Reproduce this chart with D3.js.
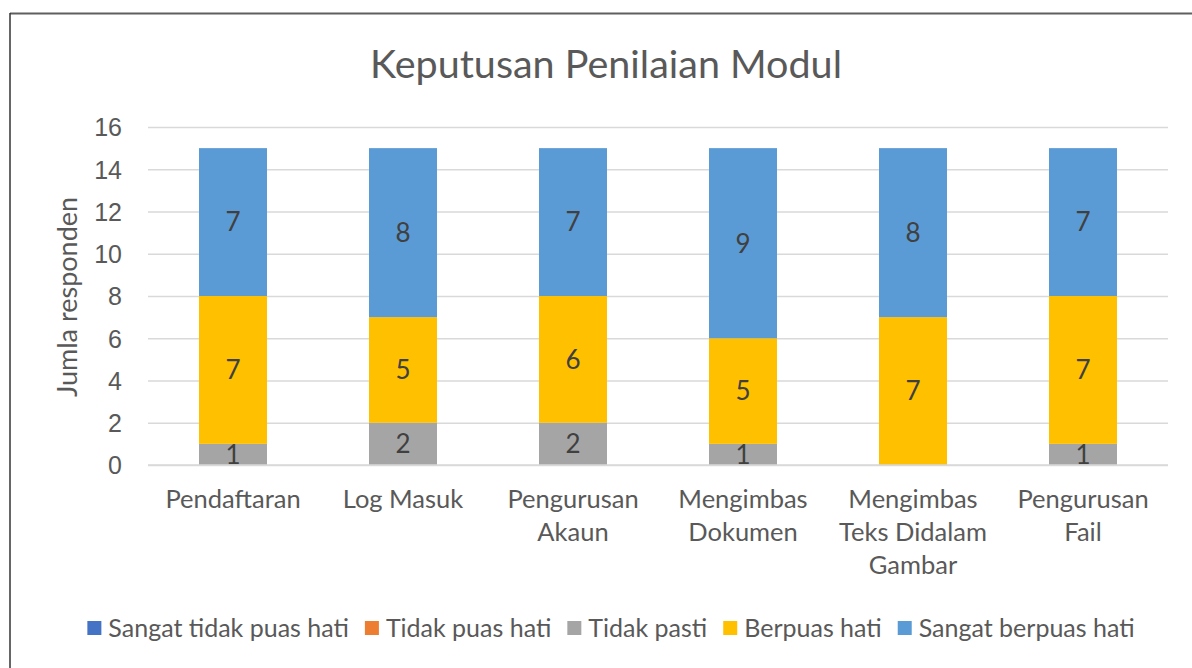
<!DOCTYPE html>
<html>
<head>
<meta charset="utf-8">
<script src="https://cdn.jsdelivr.net/npm/d3@7"></script>
<style>
  body { margin: 0; background: #fff; }
  svg { display: block; font-family: Lato, "Open Sans", sans-serif; }
</style>
</head>
<body>
<svg width="1192" height="668"></svg>
<script>
var categories = ["Pendaftaran", "Log Masuk", "Pengurusan Akaun", "Mengimbas Dokumen", "Mengimbas Teks Didalam Gambar", "Pengurusan Fail"];
var seriesNames = ["Sangat tidak puas hati", "Tidak puas hati", "Tidak pasti", "Berpuas hati", "Sangat berpuas hati"];
var sangatTidakPuas = [0, 0, 0, 0, 0, 0];
var tidakPuas = [0, 0, 0, 0, 0, 0];
var tidakPasti = [1, 2, 2, 1, 0, 1];
var berpuas = [7, 5, 6, 5, 7, 7];
var sangatBerpuas = [7, 8, 7, 9, 8, 7];
var yTicks = [0, 2, 4, 6, 8, 10, 12, 14, 16];
var colors = ["#4472C4", "#ED7D31", "#A5A5A5", "#FFC000", "#5B9BD5"];

var seriesValues = [sangatTidakPuas, tidakPuas, tidakPasti, berpuas, sangatBerpuas];

// table for d3.stack
var rows = categories.map(function(c, i) {
  var r = {cat: c};
  seriesNames.forEach(function(s, j) { r[s] = seriesValues[j][i]; });
  return r;
});

var svg = d3.select("svg"),
    margin = {top: 127, right: 24, bottom: 203, left: 148},
    width = 1192 - margin.left - margin.right,
    height = 668 - margin.top - margin.bottom;

// chart border (only top and left visible)
svg.append("line").attr("x1", 10).attr("x2", 1192).attr("y1", 13.5).attr("y2", 13.5)
  .attr("stroke", "#5f5f5f").attr("stroke-width", 2);
svg.append("line").attr("x1", 10).attr("x2", 10).attr("y1", 13).attr("y2", 668)
  .attr("stroke", "#333").attr("stroke-width", 1.5);

var x = d3.scaleBand().domain(categories).range([0, width]).paddingInner(0.6).paddingOuter(0.3),
    y = d3.scaleLinear().domain([0, 16]).range([height, 0]);

var g = svg.append("g").attr("transform", "translate(" + margin.left + "," + margin.top + ")");

// title
svg.append("text")
  .attr("x", 606).attr("y", 78)
  .attr("text-anchor", "middle")
  .attr("fill", "#595959")
  .style("font-size", "39.5px")
  .text("Keputusan Penilaian Modul");

// gridlines + y axis
var yAxis = g.append("g")
  .call(d3.axisLeft(y).tickValues(yTicks).tickSize(-width).tickPadding(26));
yAxis.select(".domain").remove();
yAxis.selectAll(".tick line").attr("stroke", "#d9d9d9").attr("stroke-width", 1.5);
yAxis.selectAll(".tick text").attr("fill", "#595959").style("font-size", "25px").attr("dy", "0.35em");

// y axis title
svg.append("text")
  .attr("transform", "translate(77,297) rotate(-90)")
  .attr("text-anchor", "middle")
  .attr("fill", "#595959")
  .style("font-size", "27px")
  .text("Jumla responden");

// stacked bars
var stack = d3.stack().keys(seriesNames);
var layers = stack(rows);

var layer = g.selectAll(".layer")
  .data(layers)
  .enter().append("g")
  .attr("class", "layer")
  .attr("fill", function(d, i) { return colors[i]; });

layer.selectAll("rect")
  .data(function(d) { return d; })
  .enter().append("rect")
  .attr("x", function(d) { return x(d.data.cat); })
  .attr("y", function(d) { return y(d[1]); })
  .attr("width", x.bandwidth())
  .attr("height", function(d) { return y(d[0]) - y(d[1]); });

// data labels
layer.selectAll("text")
  .data(function(d) { return d.filter(function(p) { return p[1] - p[0] > 0; }); })
  .enter().append("text")
  .attr("x", function(d) { return x(d.data.cat) + x.bandwidth() / 2; })
  .attr("y", function(d) { return y((d[0] + d[1]) / 2); })
  .attr("dy", "0.36em")
  .attr("text-anchor", "middle")
  .attr("fill", "#404040")
  .style("font-size", "26px")
  .text(function(d) { return d[1] - d[0]; });

// x axis line
g.append("line").attr("x1", 0).attr("x2", width).attr("y1", height).attr("y2", height)
  .attr("stroke", "#d9d9d9").attr("stroke-width", 1.5);

// category labels, wrapped
var xLab = g.selectAll(".xlab")
  .data(categories)
  .enter().append("text")
  .attr("class", "xlab")
  .attr("text-anchor", "middle")
  .attr("fill", "#595959")
  .style("font-size", "25.5px")
  .attr("transform", function(d) { return "translate(" + (x(d) + x.bandwidth() / 2) + "," + (height + 43) + ")"; });

xLab.each(function(d) {
  var t = d3.select(this), words = d.split(" "), line = [], lines = [];
  var probe = t.append("tspan");
  words.forEach(function(w) {
    var test = line.concat([w]).join(" ");
    probe.text(test);
    if (probe.node().getComputedTextLength() > 165 && line.length) {
      lines.push(line.join(" "));
      line = [w];
    } else {
      line.push(w);
    }
  });
  lines.push(line.join(" "));
  probe.remove();
  lines.forEach(function(l, i) {
    t.append("tspan").attr("x", 0).attr("y", i * 33).text(l);
  });
});

// legend
var legend = svg.append("g");
var items = legend.selectAll("g")
  .data(seriesNames)
  .enter().append("g");
items.append("rect").attr("width", 14).attr("height", 14).attr("y", -7)
  .attr("fill", function(d, i) { return colors[i]; });
items.append("text").attr("x", 21).attr("dy", "0.35em")
  .attr("fill", "#595959").style("font-size", "25px")
  .text(function(d) { return d; });

var pos = 0;
items.each(function() {
  var w = 21 + d3.select(this).select("text").node().getComputedTextLength();
  d3.select(this).attr("transform", "translate(" + pos + ",0)");
  pos += w + 16;
});
var total = pos - 16;
legend.attr("transform", "translate(" + (611 - total / 2) + ",628)");
</script>
</body>
</html>
